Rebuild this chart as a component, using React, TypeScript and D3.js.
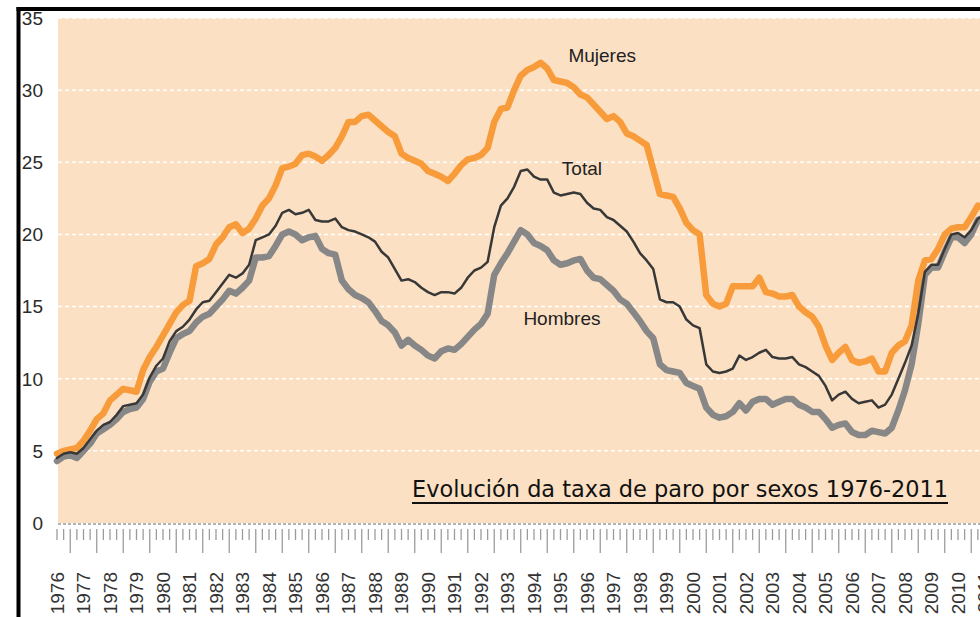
import React from "react";
import * as d3 from "d3";

// Quarterly unemployment rate (%), starting 1976 Q1 position
const startYear = 1976;
const mujeres = [
  4.8, 5.0, 5.1, 5.2, 5.7, 6.4, 7.2, 7.6, 8.5, 8.9, 9.3, 9.2, 9.1, 10.6, 11.5, 12.2,
  13.0, 13.8, 14.6, 15.1, 15.4, 17.8, 18.0, 18.3, 19.3, 19.8, 20.5, 20.7, 20.1, 20.4, 21.1, 22.0,
  22.5, 23.4, 24.6, 24.7, 24.9, 25.5, 25.6, 25.4, 25.1, 25.5, 26.0, 26.8, 27.8, 27.8, 28.2, 28.3,
  27.9, 27.5, 27.1, 26.8, 25.6, 25.3, 25.1, 24.9, 24.4, 24.2, 24.0, 23.7, 24.2, 24.8, 25.2, 25.3,
  25.5, 26.0, 27.8, 28.7, 28.8, 30.0, 31.0, 31.4, 31.6, 31.9, 31.5, 30.7, 30.6, 30.5, 30.2, 29.7,
  29.5, 29.0, 28.5, 28.0, 28.2, 27.8, 27.0, 26.8, 26.5, 26.2, 24.5, 22.8, 22.7, 22.6, 21.8, 20.8,
  20.3, 20.0, 15.8, 15.2, 15.0, 15.2, 16.4, 16.4, 16.4, 16.4, 17.0, 16.0, 15.9, 15.7, 15.7, 15.8,
  15.0, 14.6, 14.3, 13.6, 12.3, 11.3, 11.8, 12.2, 11.3, 11.1, 11.2, 11.4, 10.5, 10.5, 11.8, 12.3,
  12.6, 13.7, 16.8, 18.2, 18.3, 19.0, 20.0, 20.4, 20.5, 20.5, 21.2, 22.0, 21.8,
];
const total = [
  4.5, 4.8, 4.9, 4.8, 5.2, 5.8, 6.4, 6.8, 7.0, 7.5, 8.1, 8.2, 8.3, 8.9, 10.1, 10.9,
  11.4, 12.6, 13.3, 13.6, 14.1, 14.8, 15.3, 15.4, 16.0, 16.6, 17.2, 17.0, 17.3, 17.9, 19.6, 19.8,
  20.0, 20.6, 21.5, 21.7, 21.4, 21.5, 21.7, 21.0, 20.9, 20.9, 21.1, 20.5, 20.3, 20.2, 20.0, 19.8,
  19.5, 18.8, 18.4, 17.6, 16.8, 16.9, 16.7, 16.3, 16.0, 15.8, 16.0, 16.0, 15.9, 16.3, 17.0, 17.5,
  17.7, 18.1, 20.5, 22.0, 22.5, 23.3, 24.4, 24.5, 24.0, 23.8, 23.8, 22.9, 22.7, 22.8, 22.9, 22.8,
  22.2, 21.8, 21.7, 21.2, 21.0, 20.6, 20.2, 19.5, 18.7, 18.2, 17.6, 15.5, 15.3, 15.3, 15.0, 14.1,
  13.7, 13.5, 11.0, 10.5, 10.4, 10.5, 10.7, 11.6, 11.3, 11.5, 11.8, 12.0, 11.5, 11.4, 11.4, 11.5,
  11.0, 10.8, 10.5, 10.2, 9.5, 8.5, 8.9, 9.1, 8.6, 8.3, 8.4, 8.5, 8.0, 8.2, 8.9, 10.0,
  11.1, 12.3, 14.5, 17.4, 17.9, 17.9, 19.0, 20.0, 20.1, 19.8, 20.3, 21.1, 21.3,
];
const hombres = [
  4.3, 4.6, 4.7, 4.5, 5.0, 5.5, 6.2, 6.5, 6.8, 7.2, 7.7, 7.9, 8.0, 8.6, 9.8, 10.5,
  10.7, 11.8, 12.8, 13.1, 13.3, 13.9, 14.3, 14.5, 15.0, 15.5, 16.1, 15.9, 16.3, 16.8, 18.4, 18.4,
  18.5, 19.2, 20.0, 20.2, 20.0, 19.6, 19.8, 19.9, 19.0, 18.7, 18.6, 16.8, 16.2, 15.8, 15.6, 15.3,
  14.7, 14.0, 13.7, 13.2, 12.3, 12.7, 12.3, 12.0, 11.6, 11.4, 11.9, 12.1, 12.0, 12.4, 12.9, 13.4,
  13.8, 14.5, 17.2, 18.0, 18.7, 19.5, 20.3, 20.0, 19.4, 19.2, 18.9, 18.2, 17.9, 18.0, 18.2, 18.3,
  17.5, 17.0, 16.9, 16.5, 16.1, 15.5, 15.2, 14.6, 14.0, 13.3, 12.8, 11.0, 10.6, 10.5, 10.4, 9.7,
  9.5, 9.3, 8.0, 7.5, 7.3, 7.4, 7.7, 8.3, 7.8, 8.4, 8.6, 8.6, 8.2, 8.4, 8.6, 8.6,
  8.2, 8.0, 7.7, 7.7, 7.2, 6.6, 6.8, 6.9, 6.3, 6.1, 6.1, 6.4, 6.3, 6.2, 6.6, 7.8,
  9.2, 11.0, 13.8, 17.2, 17.7, 17.7, 18.8, 19.8, 19.8, 19.4, 20.0, 21.0, 21.2,
];
const years = d3.range(1976, 2012);
const yTicks = [0, 5, 10, 15, 20, 25, 30, 35];
const seriesLabels = [
  { name: "Mujeres", year: 1995.3, value: 31.95 },
  { name: "Total", year: 1995.05, value: 24.1 },
  { name: "Hombres", year: 1993.6, value: 13.75 },
];
const title = "Evolución da taxa de paro por sexos 1976-2011";

export default function App() {
  const W = 980;
  const H = 617;
  const x = d3.scaleLinear().domain([1976, 2011]).range([57, 984.5]);
  const y = d3.scaleLinear().domain([0, 35]).range([523, 18]);
  const plotLeft = 58;

  const toPts = (arr: number[]) => arr.map((v, i) => ({ t: startYear + i / 4, v }));
  const line = d3
    .line<{ t: number; v: number }>()
    .x((d) => x(d.t))
    .y((d) => y(d.v));

  const quarters = d3.range(0, 35 * 4 + 1).map((i) => 1976 + i / 4);

  const font = "'Liberation Sans', Arial, sans-serif";

  return (
    <svg
      width={W}
      height={H}
      style={{ position: "absolute", left: 0, top: 0, display: "block", background: "#fff" }}
    >
      <rect x={plotLeft} y={y(35)} width={W - plotLeft} height={y(0) - y(35)} fill="#FCE0C3" />
      {yTicks.filter((t) => t > 0).map((t) => (
        <line
          key={t}
          x1={plotLeft}
          x2={W}
          y1={y(t)}
          y2={y(t)}
          stroke="#fff"
          strokeWidth={1.5}
          strokeDasharray="4 3"
        />
      ))}
      <line x1={plotLeft} x2={W} y1={y(0) + 1} y2={y(0) + 1} stroke="#9a9a9a" strokeWidth={1.5} strokeDasharray="3 2" />

      {quarters.map((q, i) => {
        const long = i % 4 === 2;
        return (
          <line
            key={i}
            x1={x(q)}
            x2={x(q)}
            y1={529}
            y2={long ? 553 : 540}
            stroke="#9c9c9c"
            strokeWidth={1.3}
          />
        );
      })}

      {years.map((yr) => (
        <text
          key={yr}
          transform={`translate(${x(yr)},572) rotate(-90)`}
          textAnchor="end"
          dy="0.36em"
          fontFamily={font}
          fontSize={19}
          fill="#333"
        >
          {yr}
        </text>
      ))}

      {yTicks.map((t) => (
        <text
          key={t}
          x={43}
          y={y(t)}
          dy="0.36em"
          textAnchor="end"
          fontFamily={font}
          fontSize={19}
          fill="#2a2a2a"
        >
          {t}
        </text>
      ))}

      <path d={line(toPts(hombres)) || ""} fill="none" stroke="#878787" strokeWidth={6.5} strokeLinejoin="round" strokeLinecap="round" />
      <path d={line(toPts(mujeres)) || ""} fill="none" stroke="#F89C3B" strokeWidth={6.5} strokeLinejoin="round" strokeLinecap="round" />
      <path d={line(toPts(total)) || ""} fill="none" stroke="#383838" strokeWidth={2.5} strokeLinejoin="round" strokeLinecap="round" />

      {seriesLabels.map((s) => (
        <text key={s.name} x={x(s.year)} y={y(s.value)} fontFamily={font} fontSize={19} fill="#222">
          {s.name}
        </text>
      ))}

      <text
        x={412}
        y={497}
        fontFamily="'DejaVu Sans', sans-serif"
        fontSize={23}
        textLength={536}
        lengthAdjust="spacingAndGlyphs"
        fill="#111"
      >
        {title}
      </text>
      <line x1={412} x2={948} y1={503} y2={503} stroke="#111" strokeWidth={2} />

      <line x1={18.5} x2={18.5} y1={7} y2={H} stroke="#000" strokeWidth={4} />
      <line x1={16.5} x2={W} y1={9} y2={9} stroke="#000" strokeWidth={4} />
    </svg>
  );
}
